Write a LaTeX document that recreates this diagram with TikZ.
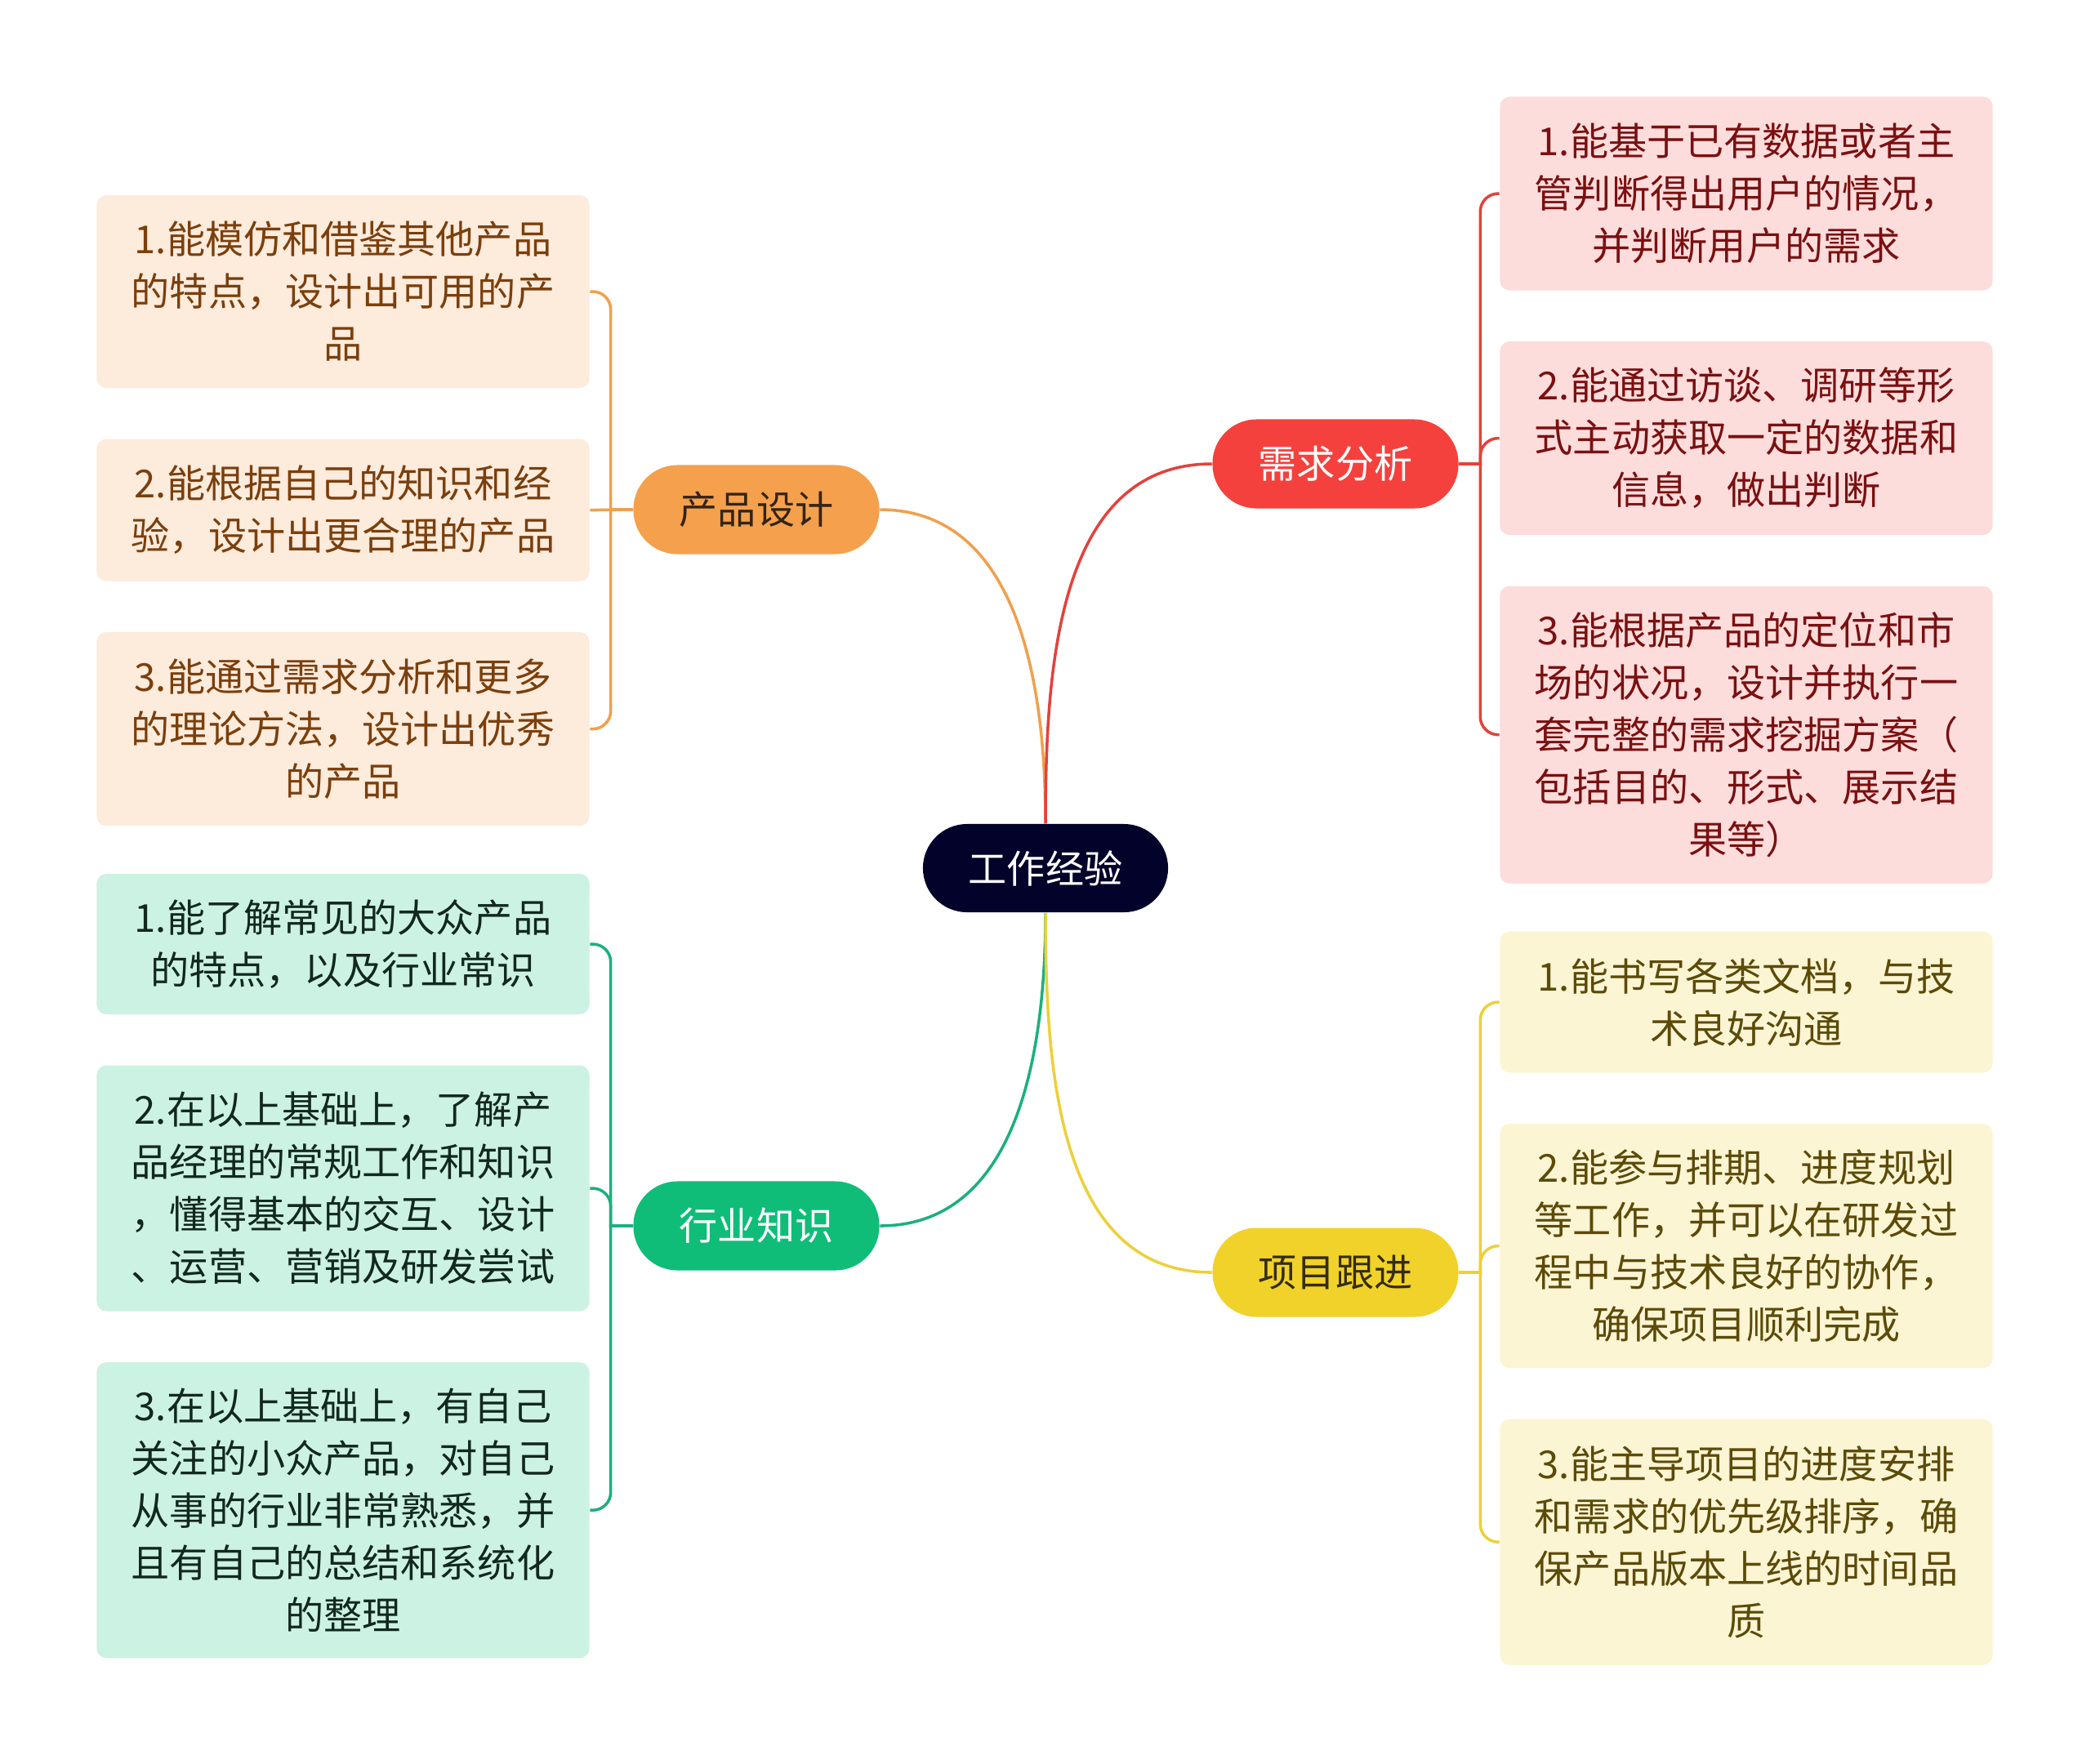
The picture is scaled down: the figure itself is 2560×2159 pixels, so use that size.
\documentclass[tikz,border=0pt]{standalone}
\usepackage{fontspec}
\setmainfont{Noto Sans CJK SC}
\usepackage{tikz}
\usetikzlibrary{positioning}
\definecolor{TopicNavy}{RGB}{3,2,42}
\definecolor{PdFill}{RGB}{245,160,76}
\definecolor{PdLeaf}{RGB}{253,235,220}
\definecolor{PdText}{RGB}{123,63,12}
\definecolor{PdDark}{RGB}{52,36,20}
\definecolor{PdLine}{RGB}{240,160,76}
\definecolor{QfFill}{RGB}{245,65,61}
\definecolor{QfLeaf}{RGB}{253,220,220}
\definecolor{QfText}{RGB}{122,16,16}
\definecolor{QfLine}{RGB}{226,66,60}
\definecolor{HyFill}{RGB}{15,189,121}
\definecolor{HyLeaf}{RGB}{204,242,227}
\definecolor{HyText}{RGB}{18,40,30}
\definecolor{HyLine}{RGB}{27,176,126}
\definecolor{XmFill}{RGB}{241,210,42}
\definecolor{XmLeaf}{RGB}{252,245,212}
\definecolor{XmText}{RGB}{92,74,8}
\definecolor{XmDark}{RGB}{52,44,12}
\definecolor{XmLine}{RGB}{237,208,58}

\begin{document}
\begin{tikzpicture}[x=0.01cm, y=0.01cm, node distance=0.61cm,
    every node/.style={font=\fontsize{13.4}{18.2}\selectfont},
    topic/.style={fill=TopicNavy, text=white, rounded corners=0.54cm,
        minimum width=3cm, minimum height=1.08cm},
    branch/.style={rounded corners=0.54cm, minimum width=3.01cm, minimum height=1.09cm},
    leaf/.style={rounded corners=0.12cm, minimum width=6.03cm, align=center, inner sep=0pt},
    pdleaf/.style={leaf, fill=PdLeaf, text=PdText},
    qfleaf/.style={leaf, fill=QfLeaf, text=QfText},
    hyleaf/.style={leaf, fill=HyLeaf, text=HyText},
    xmleaf/.style={leaf, fill=XmLeaf, text=XmText},
    link/.style={line width=1pt}]
\path[fill=white, use as bounding box] (0,0) rectangle (2560,-2159);

% centre and main branches
\node[topic] (root) at (1280,-1063) {工作经验};
\node[branch, fill=PdFill, text=PdDark] (pd) at (926,-624) {产品设计};
\node[branch, fill=QfFill, text=white] (qf) at (1635,-568) {需求分析};
\node[branch, fill=HyFill, text=white] (hy) at (926,-1501) {行业知识};
\node[branch, fill=XmFill, text=XmDark] (xm) at (1635,-1558) {项目跟进};

% 产品设计
\node[pdleaf, minimum height=2.36cm] (pd1) at (420,-357) {1.能模仿和借鉴其他产品\\的特点，设计出可用的产\\品};
\node[pdleaf, minimum height=1.74cm, below=of pd1] (pd2) {2.能根据自己的知识和经\\验，设计出更合理的产品};
\node[pdleaf, minimum height=2.37cm, below=of pd2] (pd3) {3.能通过需求分析和更多\\的理论方法，设计出优秀\\的产品};

% 行业知识
\node[hyleaf, minimum height=1.72cm] (hy1) at (420,-1156) {1.能了解常见的大众产品\\的特点，以及行业常识};
\node[hyleaf, minimum height=3.01cm, below=of hy1] (hy2) {2.在以上基础上，了解产\\品经理的常规工作和知识\\，懂得基本的交互、设计\\、运营、营销及研发尝试};
\node[hyleaf, minimum height=3.62cm, below=of hy2] (hy3) {3.在以上基础上，有自己\\关注的小众产品，对自己\\从事的行业非常熟悉，并\\且有自己的总结和系统化\\的整理};

% 需求分析
\node[qfleaf, minimum height=2.37cm] (qf1) at (2138,-237) {1.能基于已有数据或者主\\管判断得出用户的情况，\\并判断用户的需求};
\node[qfleaf, minimum height=2.37cm, below=of qf1] (qf2) {2.能通过访谈、调研等形\\式主动获取一定的数据和\\信息，做出判断};
\node[qfleaf, minimum height=3.64cm, below=of qf2] (qf3) {3.能根据产品的定位和市\\场的状况，设计并执行一\\套完整的需求挖掘方案（\\包括目的、形式、展示结\\果等）};

% 项目跟进
\node[xmleaf, minimum height=1.73cm] (xm1) at (2138,-1227) {1.能书写各类文档，与技\\术良好沟通};
\node[xmleaf, minimum height=2.99cm, below=of xm1] (xm2) {2.能参与排期、进度规划\\等工作，并可以在研发过\\程中与技术良好的协作，\\确保项目顺利完成};
\node[xmleaf, minimum height=3.01cm, below=of xm2] (xm3) {3.能主导项目的进度安排\\和需求的优先级排序，确\\保产品版本上线的时间品\\质};

% centre to branches
\draw[link, PdLine] (root.north) to[out=90, in=0] (pd.east);
\draw[link, QfLine] (root.north) to[out=90, in=180] (qf.west);
\draw[link, HyLine] (root.south) to[out=-90, in=0] (hy.east);
\draw[link, XmLine] (root.south) to[out=-90, in=180] (xm.west);

% branches to leaves
\draw[link, PdLine] (pd.west) -- ++(-27,0) [rounded corners=0.22cm] |- (pd1.east);
\draw[link, PdLine] (pd.west) -- (pd2.east);
\draw[link, PdLine] (pd.west) -- ++(-27,0) [rounded corners=0.22cm] |- (pd3.east);
\draw[link, HyLine] (hy.west) -- ++(-27,0) [rounded corners=0.22cm] |- (hy1.east);
\draw[link, HyLine] (hy.west) -- ++(-27,0) [rounded corners=0.22cm] |- (hy2.east);
\draw[link, HyLine] (hy.west) -- ++(-27,0) [rounded corners=0.22cm] |- (hy3.east);
\draw[link, QfLine] (qf.east) -- ++(26,0) [rounded corners=0.22cm] |- (qf1.west);
\draw[link, QfLine] (qf.east) -- ++(26,0) [rounded corners=0.22cm] |- (qf2.west);
\draw[link, QfLine] (qf.east) -- ++(26,0) [rounded corners=0.22cm] |- (qf3.west);
\draw[link, XmLine] (xm.east) -- ++(26,0) [rounded corners=0.22cm] |- (xm1.west);
\draw[link, XmLine] (xm.east) -- ++(26,0) [rounded corners=0.22cm] |- (xm2.west);
\draw[link, XmLine] (xm.east) -- ++(26,0) [rounded corners=0.22cm] |- (xm3.west);
\end{tikzpicture}
\end{document}
